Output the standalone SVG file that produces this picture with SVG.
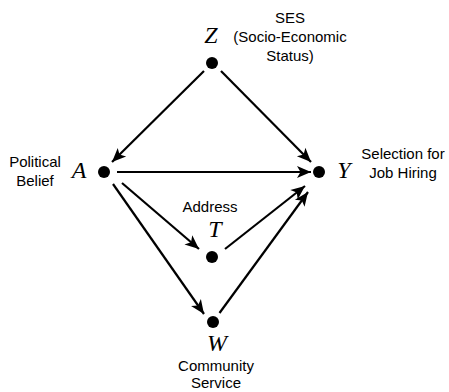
<svg xmlns="http://www.w3.org/2000/svg" width="449" height="392" viewBox="0 0 449 392">
<style>
.lbl{font-family:"Liberation Sans",Arial,sans-serif;font-size:15px;fill:#000;text-anchor:middle}
.var{font-family:"Liberation Serif","Times New Roman",serif;font-style:italic;font-size:24px;fill:#000;text-anchor:middle}
.dot{fill:#000}
.edge{stroke:#000;stroke-width:2.2;fill:none;marker-end:url(#ah)}
</style>
<defs>
<marker id="ah" markerUnits="userSpaceOnUse" viewBox="-15 -7 16 14" refX="0" refY="0" markerWidth="16" markerHeight="14" orient="auto">
<path d="M0,0 L-14,-6 L-10.5,0 L-14,6 Z" fill="#000"/>
</marker>
</defs>
<rect width="449" height="392" fill="#fff"/>
<g id="connectors">
<line class="edge" x1="204" y1="71" x2="112" y2="162"/>
<line class="edge" x1="221" y1="71" x2="311" y2="162"/>
<line class="edge" x1="117" y1="172" x2="311" y2="172"/>
<line class="edge" x1="122" y1="183" x2="199" y2="249"/>
<line class="edge" x1="113" y1="184" x2="204" y2="314"/>
<line class="edge" x1="225" y1="249" x2="305" y2="186"/>
<line class="edge" x1="219.5" y1="313" x2="308" y2="192"/>
</g>
<g id="Z">
<circle class="dot" cx="212" cy="63" r="6"/>
<text class="var" x="211" y="43">Z</text>
<text class="lbl" x="290" y="23">SES</text>
<text class="lbl" x="290" y="42">(Socio-Economic</text>
<text class="lbl" x="290" y="61">Status)</text>
</g>
<g id="A">
<circle class="dot" cx="104" cy="172" r="6"/>
<text class="var" x="79" y="178">A</text>
<text class="lbl" x="35" y="167">Political</text>
<text class="lbl" x="35" y="186">Belief</text>
</g>
<g id="Y">
<circle class="dot" cx="319" cy="172" r="6"/>
<text class="var" x="344" y="178">Y</text>
<text class="lbl" x="403" y="159">Selection for</text>
<text class="lbl" x="403" y="178">Job Hiring</text>
</g>
<g id="T">
<circle class="dot" cx="212" cy="257" r="6"/>
<text class="var" x="215" y="237">T</text>
<text class="lbl" x="210" y="212">Address</text>
</g>
<g id="W">
<circle class="dot" cx="213" cy="322" r="6"/>
<text class="var" x="217" y="351">W</text>
<text class="lbl" x="216" y="371">Community</text>
<text class="lbl" x="216" y="388">Service</text>
</g>
</svg>
